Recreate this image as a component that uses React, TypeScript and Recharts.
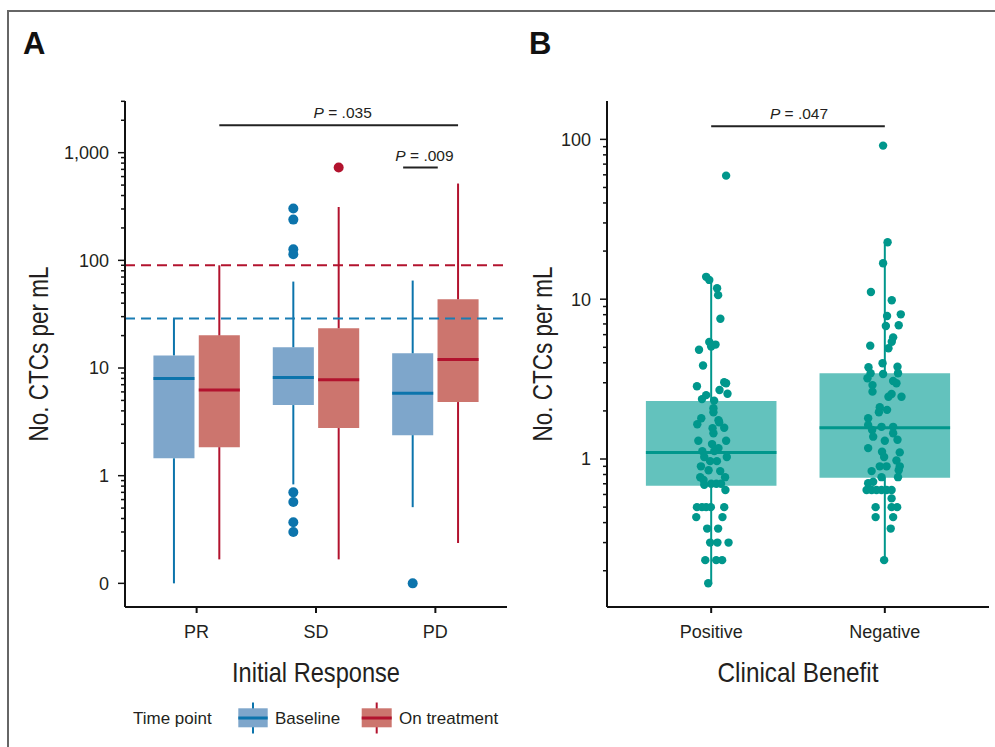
import React from "react";
import {
  ComposedChart,
  XAxis,
  YAxis,
  ReferenceArea,
  ReferenceLine,
  Scatter,
} from "recharts";

// ---- Panel A: CTCs by initial response ----
const responseCategories = ["PR", "SD", "PD"];
// [lower whisker, Q1, median, Q3, upper whisker] in CTCs per mL
const baselineBoxes = [
  [0, 1.45, 8.0, 13.1, 28.8],
  [0.83, 4.53, 8.15, 15.6, 63.5],
  [0.51, 2.38, 5.82, 13.7, 64.9],
];
const treatmentBoxes = [
  [0.167, 1.84, 6.25, 20.1, 90],
  [0.167, 2.77, 7.8, 23.4, 313],
  [0.237, 4.83, 12.0, 43.5, 517],
];
const baselineOutliers = [[], [303, 239, 127, 114, 0.7, 0.57, 0.37, 0.3], [0]];
const treatmentOutliers = [[], [728], []];
const baselineCutoff = 28.8;
const treatmentCutoff = 90;

// ---- Panel B: CTCs by clinical benefit ----
const benefitCategories = ["Positive", "Negative"];
const benefitBoxes = [
  [0.167, 0.68, 1.1, 2.31, 12.8],
  [0.233, 0.764, 1.57, 3.44, 22.7],
];
// [jitter in category units, CTCs per mL]
const positivePoints = [
  [0.086, 59.3], [-0.029, 13.8], [-0.011, 13.2], [0.034, 11.7], [0.04, 10.6],
  [0.053, 7.55], [-0.011, 5.4], [0.025, 5.2], [0.0, 5.05], [-0.07, 4.83],
  [-0.047, 3.85], [-0.082, 2.85], [0.075, 3.02], [0.086, 2.98], [0.048, 2.7],
  [0.094, 2.56], [-0.029, 2.51], [-0.053, 2.37], [0.017, 2.32], [0.013, 2.08],
  [0.013, 1.96], [-0.057, 1.8], [0.042, 1.75], [-0.08, 1.65], [0.046, 1.7],
  [0.008, 1.56], [0.075, 1.57], [0.013, 1.45], [-0.074, 1.3], [0.086, 1.3],
  [0.005, 1.24], [-0.051, 1.12], [0.042, 1.17], [0.018, 1.12], [0.09, 1.03],
  [-0.04, 1.03], [-0.006, 0.97], [0.033, 0.97], [-0.059, 0.9], [-0.015, 0.85],
  [0.052, 0.84], [-0.063, 0.77], [0.08, 0.77], [-0.044, 0.74], [0.0, 0.7],
  [0.03, 0.7], [0.057, 0.7], [-0.04, 0.69], [0.082, 0.64],
  [-0.082, 0.5], [-0.053, 0.5], [-0.029, 0.5], [-0.002, 0.5], [0.075, 0.5],
  [-0.086, 0.433], [0.065, 0.433], [-0.023, 0.367], [0.04, 0.367],
  [-0.006, 0.3], [0.036, 0.3], [0.1, 0.3],
  [-0.034, 0.233], [0.029, 0.233], [0.063, 0.233], [-0.017, 0.167],
];
const negativePoints = [
  [-0.01, 91.4], [0.016, 22.7], [-0.01, 16.8], [-0.08, 11.1], [0.04, 9.85],
  [0.092, 8.04], [0.013, 7.85], [0.006, 6.8], [0.08, 6.87], [0.048, 5.77],
  [0.04, 5.42], [-0.084, 5.12], [0.021, 4.93], [-0.013, 3.97], [-0.094, 3.75],
  [0.073, 3.78], [-0.082, 3.44], [-0.01, 3.4], [0.076, 3.44], [-0.1, 3.2],
  [0.048, 3.08], [0.067, 2.98], [-0.071, 2.9], [-0.071, 2.64], [0.039, 2.55],
  [0.021, 2.45], [0.096, 2.45], [-0.029, 2.11], [-0.034, 1.96], [0.013, 2.03],
  [-0.096, 1.8], [-0.096, 1.63], [-0.019, 1.59], [0.048, 1.59], [-0.073, 1.52],
  [0.048, 1.45], [-0.067, 1.38], [0.0, 1.3], [0.073, 1.32], [-0.096, 1.17],
  [-0.016, 1.11], [0.086, 1.1], [-0.004, 1.03], [0.067, 0.98], [-0.029, 0.9],
  [0.01, 0.9], [0.086, 0.9], [-0.076, 0.84], [0.08, 0.85], [-0.019, 0.77],
  [0.076, 0.77], [-0.096, 0.705], [-0.067, 0.72],
  [-0.105, 0.64], [-0.076, 0.64], [-0.048, 0.64], [-0.019, 0.64], [0.01, 0.64], [0.039, 0.64],
  [0.039, 0.567], [-0.053, 0.5], [0.039, 0.5], [0.071, 0.5],
  [-0.053, 0.433], [0.048, 0.433], [0.034, 0.367], [-0.004, 0.233],
];

const BLUE_FILL = "#7ea6cb";
const BLUE = "#0c74ac";
const RED_FILL = "#cc756e";
const RED = "#b2132e";
const TEAL_FILL = "#63c2bd";
const TEAL = "#00978c";
const INK = "#231f20";
const SANS = "'Liberation Sans', Arial, sans-serif";

const ZERO_AT = 0.1; // "0" is plotted one decade below 1
const y0 = (v: number) => (v <= 0 ? ZERO_AT : v);

const logTicks = (majors: number[], lo: number, hi: number) => {
  const out: number[] = [];
  majors.forEach((m) => {
    for (let k = 1; k <= 9; k++) {
      const v = +(m * k).toPrecision(3);
      if (v >= lo && v <= hi) out.push(v);
    }
  });
  return out;
};

const domainA: [number, number] = [0.0603, 3020];
const domainB: [number, number] = [0.1186, 173.8];
const ticksA = logTicks([0.1, 1, 10, 100, 1000], domainA[0], domainA[1]);
const ticksB = logTicks([0.1, 1, 10, 100], domainB[0], domainB[1]);
const labelsA: Record<string, string> = { "0.1": "0", "1": "1", "10": "10", "100": "100", "1000": "1,000" };
const labelsB: Record<string, string> = { "1": "1", "10": "10", "100": "100" };

const axisStyle = { stroke: "#111", strokeWidth: 2 };

const makeYTick = (labels: Record<string, string>) => (props: any) => {
  const { x, y, payload } = props;
  const label = labels[String(payload.value)];
  const major = label !== undefined;
  return (
    <g>
      <line x1={x + (major ? 3 : 6)} x2={x + 10} y1={y} y2={y} stroke="#111" strokeWidth={1.5} />
      {major && (
        <text x={x - 6} y={y} dy="0.36em" textAnchor="end" fontSize={18} fontFamily={SANS} fill={INK}>
          {label}
        </text>
      )}
    </g>
  );
};

const makeXTick = (cats: string[]) => (props: any) => {
  const { x, y, payload } = props;
  return (
    <text x={x} y={y} dy={25} textAnchor="middle" fontSize={18} fontFamily={SANS} fill={INK}>
      {cats[payload.value - 1]}
    </text>
  );
};

const PLabel = (props: any) => {
  const vb = props.viewBox || { x: 0, y: 0, width: 0 };
  const cx = vb.x + (vb.width || 0) / 2 + (props.shift || 0);
  return (
    <text x={cx} y={vb.y - 7} textAnchor="middle" fontSize={15.5} fontFamily={SANS} fill={INK}>
      <tspan fontStyle="italic">P</tspan> = {props.pv}
    </text>
  );
};

// condensed title text: Liberation Sans squeezed to the reference width
const Title = ({ x, y, len, rotate, children }: any) => (
  <text
    transform={`translate(${x},${y})${rotate ? " rotate(-90)" : ""}`}
    textAnchor="middle"
    fontSize={28}
    fontFamily={SANS}
    fill={INK}
    textLength={len}
    lengthAdjust="spacingAndGlyphs"
  >
    {children}
  </text>
);

const boxElements = (
  stats: number[],
  center: number,
  half: number,
  fill: string,
  line: string,
  key: string
) => {
  const [lo, q1, med, q3, hi] = stats.map(y0);
  return [
    <ReferenceArea key={key + "b"} x1={center - half} x2={center + half} y1={q1} y2={q3} fill={fill} fillOpacity={1} stroke="none" ifOverflow="visible" />,
    <ReferenceLine key={key + "u"} segment={[{ x: center, y: q3 }, { x: center, y: hi }]} stroke={line} strokeWidth={2} ifOverflow="visible" />,
    <ReferenceLine key={key + "l"} segment={[{ x: center, y: lo }, { x: center, y: q1 }]} stroke={line} strokeWidth={2} ifOverflow="visible" />,
    <ReferenceLine key={key + "m"} segment={[{ x: center - half, y: med }, { x: center + half, y: med }]} stroke={line} strokeWidth={3} ifOverflow="visible" />,
  ];
};

const dot = (r: number, color: string) => (p: any) => <circle cx={p.cx} cy={p.cy} r={r} fill={color} />;

const DODGE = 0.19;
const HALF_A = 0.172;
const HALF_B = 0.376;

const App = () => {
  const blueOut = baselineOutliers.flatMap((vals, i) => vals.map((v) => ({ x: i + 1 - DODGE, y: y0(v) })));
  const redOut = treatmentOutliers.flatMap((vals, i) => vals.map((v) => ({ x: i + 1 + DODGE, y: y0(v) })));
  const tealPts = [positivePoints, negativePoints].flatMap((pts, i) =>
    pts.map(([j, v]) => ({ x: i + 1 + j, y: v }))
  );

  return (
    <div style={{ position: "absolute", left: 0, top: 0, width: 995, height: 747, background: "#fff", overflow: "hidden" }}>
      <div style={{ position: "absolute", left: 7, top: 10, right: 0, bottom: 0, borderTop: "2px solid #666", borderLeft: "2px solid #666" }} />

      <div style={{ position: "absolute", left: 0, top: 0 }}>
        <ComposedChart width={520} height={747} margin={{ top: 101, right: 13, bottom: 100, left: 0 }}>
          <XAxis type="number" dataKey="x" domain={[0.4, 3.6]} allowDataOverflow ticks={[1, 2, 3]} interval={0}
            height={40} tickSize={6} tickMargin={0} axisLine={axisStyle} tickLine={axisStyle} tick={makeXTick(responseCategories)} />
          <YAxis type="number" dataKey="y" scale="log" domain={domainA} allowDataOverflow ticks={ticksA} interval={0}
            width={125} tickSize={7} tickMargin={3} axisLine={axisStyle} tickLine={false} tick={makeYTick(labelsA)} />
          {baselineBoxes.flatMap((s, i) => boxElements(s, i + 1 - DODGE, HALF_A, BLUE_FILL, BLUE, "bl" + i))}
          {treatmentBoxes.flatMap((s, i) => boxElements(s, i + 1 + DODGE, HALF_A, RED_FILL, RED, "tr" + i))}
          <Scatter data={blueOut} dataKey="y" isAnimationActive={false} shape={dot(5, BLUE)} />
          <Scatter data={redOut} dataKey="y" isAnimationActive={false} shape={dot(5, RED)} />
          <ReferenceLine y={treatmentCutoff} stroke={RED} strokeWidth={2} strokeDasharray="10 6" />
          <ReferenceLine y={baselineCutoff} stroke="#1a7db3" strokeWidth={2} strokeDasharray="10 6" />
          <ReferenceLine segment={[{ x: 1 + DODGE, y: 1800 }, { x: 3 + DODGE, y: 1800 }]} stroke="#222" strokeWidth={2}
            label={<PLabel pv=".035" shift={4} />} />
          <ReferenceLine segment={[{ x: 2.73, y: 728 }, { x: 3.02, y: 728 }]} stroke="#222" strokeWidth={2}
            label={<PLabel pv=".009" shift={4} />} />
        </ComposedChart>
      </div>

      <div style={{ position: "absolute", left: 520, top: 0 }}>
        <ComposedChart width={475} height={747} margin={{ top: 101, right: 6, bottom: 100, left: 0 }}>
          <XAxis type="number" dataKey="x" domain={[0.4, 2.6]} allowDataOverflow ticks={[1, 2]} interval={0}
            height={40} tickSize={6} tickMargin={0} axisLine={axisStyle} tickLine={axisStyle} tick={makeXTick(benefitCategories)} />
          <YAxis type="number" dataKey="y" scale="log" domain={domainB} allowDataOverflow ticks={ticksB} interval={0}
            width={87} tickSize={7} tickMargin={3} axisLine={axisStyle} tickLine={false} tick={makeYTick(labelsB)} />
          {benefitBoxes.flatMap((s, i) => boxElements(s, i + 1, HALF_B, TEAL_FILL, TEAL, "cb" + i))}
          <Scatter data={tealPts} dataKey="y" isAnimationActive={false} shape={dot(4.2, TEAL)} />
          <ReferenceLine segment={[{ x: 1, y: 121 }, { x: 2, y: 121 }]} stroke="#222" strokeWidth={2}
            label={<PLabel pv=".047" shift={1} />} />
        </ComposedChart>
      </div>

      <svg width={995} height={747} style={{ position: "absolute", left: 0, top: 0, pointerEvents: "none" }}>
        <text x={23} y={54} fontSize={31} fontWeight="bold" fontFamily={SANS} fill="#111">A</text>
        <text x={529} y={54} fontSize={31} fontWeight="bold" fontFamily={SANS} fill="#111">B</text>
        <Title x={48} y={354} len={175} rotate>No. CTCs per mL</Title>
        <Title x={552} y={354} len={175} rotate>No. CTCs per mL</Title>
        <Title x={316} y={682} len={168}>Initial Response</Title>
        <Title x={798} y={682} len={161}>Clinical Benefit</Title>

        <text x={133} y={723.5} fontSize={17} fontFamily={SANS} fill={INK}>Time point</text>
        <line x1={253} x2={253} y1={702.5} y2={733.5} stroke={BLUE} strokeWidth={2} />
        <rect x={238.3} y={708.3} width={29.4} height={19} fill={BLUE_FILL} />
        <line x1={238.3} x2={267.7} y1={718} y2={718} stroke={BLUE} strokeWidth={3} />
        <text x={275} y={723.5} fontSize={17} fontFamily={SANS} fill={INK}>Baseline</text>
        <line x1={376.7} x2={376.7} y1={702.5} y2={733.5} stroke={RED} strokeWidth={2} />
        <rect x={361.7} y={708.3} width={30} height={19} fill={RED_FILL} />
        <line x1={361.7} x2={391.7} y1={718} y2={718} stroke={RED} strokeWidth={3} />
        <text x={399} y={723.5} fontSize={17} fontFamily={SANS} fill={INK}>On treatment</text>
      </svg>
    </div>
  );
};

export default App;
